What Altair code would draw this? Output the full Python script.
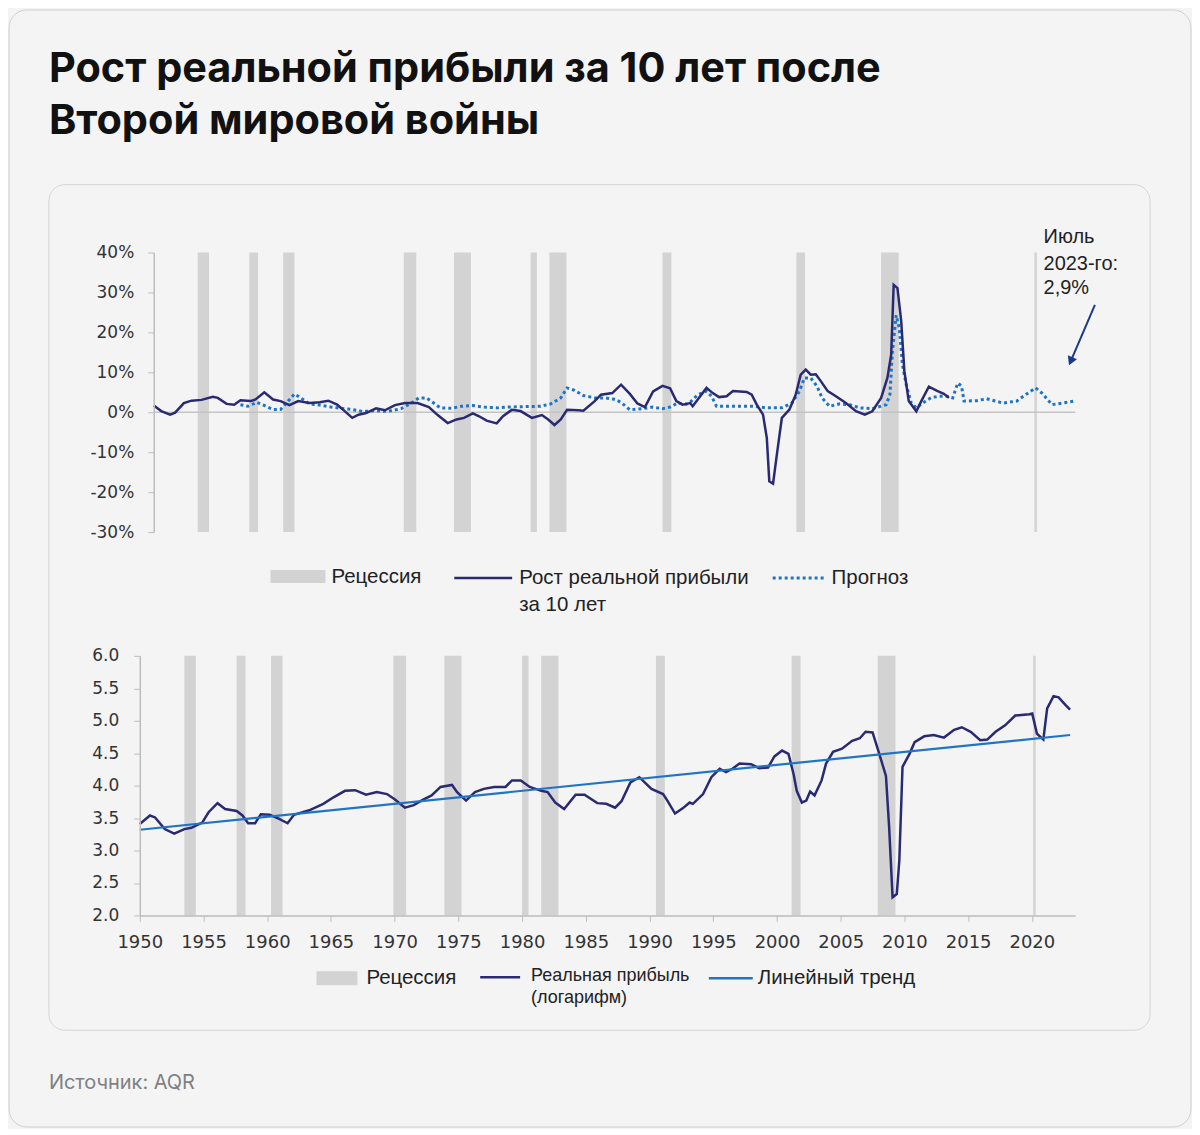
import altair as alt
import pandas as pd

# ---------------- data ----------------
rec_start = [1953.5, 1957.6, 1960.3, 1969.9, 1973.9, 1980.0, 1981.5, 1990.5, 2001.15, 2007.9, 2020.1]
rec_end = [1954.4, 1958.3, 1961.2, 1970.9, 1975.25, 1980.5, 1982.85, 1991.2, 2001.85, 2009.3, 2020.3]

growth_years = [1950.0, 1950.6, 1951.3, 1951.7, 1952.4, 1953.0, 1953.8, 1954.7, 1955.1, 1955.8,
                1956.4, 1956.9, 1957.7, 1958.1, 1958.8, 1959.5, 1960.1, 1960.8, 1961.5, 1962.4,
                1963.2, 1963.9, 1964.6, 1965.2, 1965.8, 1966.3, 1966.9, 1967.7, 1968.4, 1969.2,
                1970.0, 1971.0, 1971.9, 1972.6, 1973.4, 1974.1, 1974.7, 1975.4, 1975.9, 1976.5,
                1977.3, 1977.8, 1978.5, 1979.2, 1980.1, 1980.9, 1981.4, 1981.9, 1982.4, 1982.9,
                1983.8, 1984.2, 1985.1, 1985.6, 1986.5, 1987.2, 1987.9, 1988.5, 1989.1, 1989.75,
                1990.5, 1991.1, 1991.6, 1992.1, 1992.7, 1992.9, 1993.5, 1994.0, 1994.5, 1995.0,
                1995.6, 1996.1, 1997.2, 1997.6, 1998.0, 1998.5, 1998.8, 1999.0, 1999.3, 1999.6,
                2000.0, 2000.6, 2001.1, 2001.5, 2001.9, 2002.3, 2002.7, 2003.1, 2003.65, 2004.3,
                2005.1, 2005.9, 2006.6, 2007.2, 2007.9, 2008.4, 2008.7, 2008.9, 2009.2, 2009.5,
                2009.75, 2010.1, 2010.7, 2011.1, 2011.7, 2012.4, 2012.9, 2013.3]
growth_vals = [1.7, 0.3, -0.6, -0.1, 2.3, 2.9, 3.1, 3.9, 3.6, 2.1,
               1.9, 3.0, 2.8, 3.2, 5.0, 3.2, 2.8, 1.8, 2.8, 2.3,
               2.5, 2.9, 1.9, 0.3, -1.4, -0.6, -0.2, 1.0, 0.5, 1.8,
               2.3, 2.3, 1.3, -0.7, -2.7, -1.8, -1.4, -0.3, -1.0, -2.1,
               -2.8, -1.0, 0.6, 0.3, -1.4, -0.7, -1.8, -3.2, -1.8, 0.6,
               0.5, 0.4, 2.8, 4.4, 4.8, 6.9, 4.6, 2.2, 1.3, 5.2,
               6.6, 6.0, 2.8, 1.9, 2.3, 1.5, 4.0, 6.1, 4.8, 3.8,
               4.0, 5.3, 5.1, 4.4, 1.9, -0.6, -6.4, -17.3, -17.9, -10.6,
               -1.4, 0.7, 4.4, 9.4, 10.7, 9.4, 9.5, 7.8, 5.3, 4.0,
               2.3, 0.25, -0.6, 0.25, 3.6, 8.6, 14.4, 31.9, 31.1, 22.8,
               10.3, 2.8, 0.25, 2.8, 6.4, 5.3, 4.6, 3.6]

fcst_years = [1956.9, 1957.5, 1958.2, 1958.8, 1959.5, 1960.1, 1960.7, 1961.2, 1961.7, 1962.4,
              1963.2, 1964.1, 1964.9, 1965.8, 1966.6, 1967.7, 1968.6, 1969.7, 1970.5, 1971.1,
              1971.7, 1972.2, 1972.8, 1973.7, 1974.5, 1975.4, 1976.2, 1977.4, 1978.2, 1979.4,
              1980.8, 1981.6, 1982.4, 1982.9, 1983.5, 1984.2, 1985.1, 1985.9, 1986.8, 1987.3,
              1987.9, 1988.9, 1989.7, 1990.5, 1991.1, 1991.7, 1992.4, 1992.8, 1993.3, 1994.0,
              1994.4, 1994.8, 1996.1, 1997.7, 1998.8, 2000.0, 2000.8, 2001.4, 2001.8, 2002.3,
              2002.8, 2003.2, 2003.8, 2004.6, 2005.4, 2006.2, 2007.2, 2008.3, 2008.6, 2008.8,
              2009.1, 2009.35, 2009.6, 2009.9, 2010.3, 2010.7, 2011.2, 2011.9, 2012.5, 2013.2,
              2013.6, 2014.0, 2014.3, 2014.5, 2015.5, 2016.3, 2017.6, 2018.7, 2019.4, 2020.2,
              2020.7, 2021.5, 2022.3, 2023.25]
fcst_vals = [1.9, 1.5, 2.5, 1.7, 0.7, 0.7, 2.8, 4.6, 3.6, 2.1,
             1.8, 1.3, 1.0, 0.7, 0.2, 0.4, 0.2, 0.9, 2.3, 3.6,
             3.6, 2.5, 1.1, 1.0, 1.5, 1.7, 1.3, 1.1, 1.3, 1.4,
             1.5, 2.1, 3.6, 6.1, 5.5, 4.2, 3.6, 3.6, 3.2, 2.2,
             0.6, 0.9, 1.3, 0.9, 1.3, 2.3, 2.0, 2.8, 4.4, 5.3,
             4.0, 1.5, 1.5, 1.5, 1.1, 1.1, 2.3, 5.3, 8.6, 8.6,
             6.5, 3.6, 1.5, 2.1, 1.9, 1.1, 0.9, 1.9, 4.4, 15.2,
             24.3, 21.0, 11.9, 6.9, 2.3, 1.1, 2.3, 3.7, 4.0, 4.0,
             3.6, 7.3, 6.6, 2.8, 2.9, 3.4, 2.3, 2.8, 4.4, 6.1,
             4.8, 1.9, 2.3, 2.8]

profit_years = [1950.0, 1950.8, 1951.2, 1951.96, 1952.7, 1953.5, 1954.05, 1954.9, 1955.4, 1956.1,
                1956.7, 1957.6, 1958.06, 1958.5, 1959.05, 1959.5, 1960.2, 1960.9, 1961.6, 1962.1,
                1963.3, 1964.4, 1965.2, 1966.1, 1966.9, 1967.75, 1968.6, 1969.4, 1970.0, 1970.8,
                1971.5, 1972.2, 1972.9, 1973.6, 1974.5, 1974.9, 1975.6, 1976.3, 1977.0, 1977.8,
                1978.7, 1979.2, 1979.9, 1980.6, 1981.5, 1982.0, 1982.6, 1983.3, 1984.2, 1984.9,
                1985.9, 1986.6, 1987.3, 1987.8, 1988.5, 1989.2, 1990.15, 1991.06, 1991.4, 1992.0,
                1992.6, 1993.15, 1993.4, 1994.2, 1994.85, 1995.5, 1996.0, 1996.5, 1997.06, 1997.97,
                1998.6, 1999.3, 1999.8, 2000.4, 2000.9, 2001.3, 2001.55, 2001.95, 2002.3, 2002.6,
                2002.95, 2003.5, 2003.85, 2004.4, 2005.1, 2005.9, 2006.5, 2006.95, 2007.5, 2007.9,
                2008.55, 2008.8, 2009.07, 2009.4, 2009.6, 2009.85, 2010.4, 2010.8, 2011.55, 2012.3,
                2013.1, 2013.9, 2014.5, 2015.2, 2015.95, 2016.5, 2017.15, 2017.9, 2018.7, 2019.8,
                2020.03, 2020.4, 2020.9, 2021.2, 2021.7, 2022.1, 2022.65, 2023.0]
profit_vals = [3.41, 3.54, 3.51, 3.33, 3.26, 3.33, 3.35, 3.43, 3.59, 3.73,
               3.64, 3.61, 3.54, 3.42, 3.42, 3.56, 3.55, 3.49, 3.42, 3.55,
               3.62, 3.72, 3.82, 3.92, 3.93, 3.86, 3.90, 3.87, 3.79, 3.66,
               3.70, 3.78, 3.85, 3.98, 4.01, 3.90, 3.77, 3.90, 3.95, 3.98,
               3.98, 4.08, 4.08, 3.98, 3.92, 3.90, 3.74, 3.64, 3.86, 3.86,
               3.73, 3.72, 3.66, 3.76, 4.05, 4.13, 3.95, 3.87, 3.77, 3.57,
               3.65, 3.74, 3.72, 3.87, 4.13, 4.26, 4.21, 4.26, 4.34, 4.33,
               4.27, 4.28, 4.45, 4.54, 4.49, 4.18, 3.92, 3.74, 3.77, 3.91,
               3.85, 4.08, 4.34, 4.52, 4.57, 4.69, 4.73, 4.83, 4.82, 4.57,
               4.15, 3.36, 2.28, 2.33, 2.85, 4.29, 4.49, 4.67, 4.76, 4.78,
               4.74, 4.86, 4.90, 4.83, 4.70, 4.71, 4.83, 4.93, 5.08, 5.10,
               5.11, 4.80, 4.71, 5.19, 5.38, 5.36, 5.24, 5.17]

trend_years = [1950.0, 2023.0]
trend_vals = [3.32, 4.78]

top_ticks = [-30, -20, -10, 0, 10, 20, 30, 40]
bottom_y_ticks = [2.0, 2.5, 3.0, 3.5, 4.0, 4.5, 5.0, 5.5, 6.0]
bottom_x_ticks = [1950, 1955, 1960, 1965, 1970, 1975, 1980, 1985, 1990, 1995, 2000, 2005, 2010, 2015, 2020]

title_lines = ["Рост реальной прибыли за 10 лет после", "Второй мировой войны"]
source_text = "Источник: AQR"
note_lines = ["Июль", "2023-го:", "2,9%"]
note_years = [2020.83, 2020.83, 2020.83]
note_vals = [44.0, 37.1, 31.1]
arrow_from = (2024.92, 26.9)
arrow_head = (2023.04, 13.1)

# ---------------- frames ----------------
rec_df = pd.DataFrame({"start": rec_start, "end": rec_end})
growth_df = pd.DataFrame({"year": growth_years, "value": growth_vals})
fcst_df = pd.DataFrame({"year": fcst_years, "value": fcst_vals})
profit_df = pd.DataFrame({"year": profit_years, "value": profit_vals})
trend_df = pd.DataFrame({"year": trend_years, "value": trend_vals})
note_df = pd.DataFrame({"year": note_years, "value": note_vals, "txt": note_lines})
arrow_df = pd.DataFrame({"year": [arrow_from[0]], "value": [arrow_from[1]],
                         "year2": [arrow_head[0]], "value2": [arrow_head[1]]})
head_df = pd.DataFrame({"year": [arrow_head[0]], "value": [arrow_head[1]]})
one = pd.DataFrame({"d": [0]})

NAVY = "#2a2a72"
BLUE = "#1f74c6"
GRAY_BAR = "#d3d3d3"
AXIS_GRAY = "#bdbdbd"
TXT = "#222222"
BG = "#f4f4f4"

W = 937
H1 = 280
H2 = 260
TOP_DOM = [1950, 2023.35]
BOT_DOM = [1950, 2023.4]

xs_top = alt.Scale(domain=TOP_DOM, range=[14, W], nice=False, zero=False)
ys_top = alt.Scale(domain=[-30, 40], nice=False, zero=False)
xs_bot = alt.Scale(domain=BOT_DOM, nice=False, zero=False)
ys_bot = alt.Scale(domain=[2, 6], nice=False, zero=False)

top_axis = alt.Axis(values=top_ticks, labelExpr="datum.value + '%'", title=None, grid=False,
                    offset=-14, domainColor=AXIS_GRAY, tickColor=AXIS_GRAY, tickSize=6,
                    labelPadding=14, labelFont="DejaVu Sans", labelFontSize=17,
                    labelColor="#333333", zindex=1, domainWidth=1.5, labelOverlap=False,
                    labelBound=False, labelFlush=False)


def YT(field):
    return alt.Y(field, scale=ys_top, axis=top_axis)


def XT(field):
    return alt.X(field, scale=xs_top, axis=None)


def dtext(txt, x, y, size, font="Liberation Sans", color=TXT, weight="normal", baseline="middle"):
    return alt.Chart(one).mark_text(text=txt, fontSize=size, font=font, color=color,
                                    fontWeight=weight, align="left", baseline=baseline).encode(
        x=alt.value(x), y=alt.value(y))


def drect(x, x2, y, y2, **kw):
    return alt.Chart(one).mark_rect(**kw).encode(
        x=alt.value(x), x2=alt.value(x2), y=alt.value(y), y2=alt.value(y2))


def drule(x, x2, y, **kw):
    return alt.Chart(one).mark_rule(**kw).encode(
        x=alt.value(x), x2=alt.value(x2), y=alt.value(y))


# ---------------- top panel ----------------
page_bg = drect(-131, 1053, -243, 876, fill=BG, stroke="#cfcfcf", strokeWidth=1, cornerRadius=18)
card = drect(-91, 1012, -68, 779, fill=BG, stroke="#d4d4d4", strokeWidth=1, cornerRadius=16)
title1 = dtext(title_lines[0], -91, -171, 41.5, font="Inter", color="#111111", weight="bold", baseline="alphabetic")
title2 = dtext(title_lines[1], -91, -119, 41.5, font="Inter", color="#111111", weight="bold", baseline="alphabetic")
source = dtext(source_text, -91, 832, 20, font="Inter", color="#808080")

rec_top = alt.Chart(rec_df).mark_rect(color=GRAY_BAR).encode(
    x=XT("start:Q"), x2="end:Q",
    y=alt.value(0), y2=alt.value(H1))

zero_line = alt.Chart(one).mark_rule(color="#c4c4c4", strokeWidth=1.5).encode(
    x=alt.datum(TOP_DOM[0], scale=xs_top, axis=None),
    x2=alt.datum(TOP_DOM[1]),
    y=alt.datum(0, scale=ys_top, axis=top_axis))

fcst_line = alt.Chart(fcst_df).mark_line(color=BLUE, strokeWidth=3, strokeDash=[3, 3]).encode(
    x=XT("year:Q"), y=YT("value:Q"))

growth_line = alt.Chart(growth_df).mark_line(color=NAVY, strokeWidth=2.5).encode(
    x=XT("year:Q"), y=YT("value:Q"))

note = alt.Chart(note_df).mark_text(font="Liberation Sans", fontSize=20, color=TXT,
                                    align="left", baseline="middle").encode(
    x=XT("year:Q"), y=YT("value:Q"), text="txt:N")

arrow = alt.Chart(arrow_df).mark_rule(color="#1d3a8a", strokeWidth=2).encode(
    x=XT("year:Q"), y=YT("value:Q"), x2="year2:Q", y2="value2:Q")

head = alt.Chart(head_df).mark_point(shape="triangle", filled=True, size=100, angle=203,
                                     color="#1d3a8a", opacity=1).encode(
    x=XT("year:Q"), y=YT("value:Q"))

leg_top = [
    drect(131, 186, 318, 331, fill=GRAY_BAR),
    dtext("Рецессия", 192, 325, 20.5),
    drule(315, 373, 326, color=NAVY, strokeWidth=2.5),
    dtext("Рост реальной прибыли", 380, 326, 20.5),
    dtext("за 10 лет", 380, 353, 20.5),
    drule(634, 687, 326, color=BLUE, strokeWidth=3, strokeDash=[3, 3]),
    dtext("Прогноз", 693, 326, 20.5),
]

top = alt.layer(page_bg, card, title1, title2, source, rec_top, zero_line,
                fcst_line, growth_line, note, arrow, head, *leg_top).properties(width=W, height=H1)

# ---------------- bottom panel ----------------
bx_axis = alt.Axis(values=bottom_x_ticks, format="d", title=None, grid=False,
                   domainColor=AXIS_GRAY, tickColor=AXIS_GRAY, tickSize=6, labelPadding=12,
                   labelFont="DejaVu Sans", labelFontSize=18, labelColor="#333333", zindex=1,
                   domainWidth=1.5, labelFlush=False, labelOverlap=False, labelBound=False)
by_axis = alt.Axis(values=bottom_y_ticks, format=".1f", title=None, grid=False,
                   domainColor=AXIS_GRAY, tickColor=AXIS_GRAY, tickSize=6, labelPadding=15,
                   labelFont="DejaVu Sans", labelFontSize=17, labelColor="#333333", zindex=1,
                   domainWidth=1.5, labelOverlap=False, labelFlush=False, labelBound=False)

rec_bot = alt.Chart(rec_df).mark_rect(color=GRAY_BAR).encode(
    x=alt.X("start:Q", scale=xs_bot, axis=bx_axis),
    x2="end:Q",
    y=alt.value(0), y2=alt.value(H2))

profit_line = alt.Chart(profit_df).mark_line(color=NAVY, strokeWidth=2.5).encode(
    x=alt.X("year:Q", scale=xs_bot, axis=bx_axis),
    y=alt.Y("value:Q", scale=ys_bot, axis=by_axis))

trend_line = alt.Chart(trend_df).mark_line(color=BLUE, strokeWidth=2.2).encode(
    x=alt.X("year:Q", scale=xs_bot, axis=bx_axis),
    y=alt.Y("value:Q", scale=ys_bot, axis=by_axis))

leg_bot = [
    drect(177, 218, 316, 330, fill=GRAY_BAR),
    dtext("Рецессия", 227, 323, 20.5),
    drule(341, 381, 322, color=NAVY, strokeWidth=2.5),
    dtext("Реальная прибыль", 392, 321, 18),
    dtext("(логарифм)", 392, 343, 18),
    drule(570, 614, 323, color=BLUE, strokeWidth=2.5),
    dtext("Линейный тренд", 619, 323, 20.5),
]

bottom = alt.layer(rec_bot, profit_line, trend_line, *leg_bot).properties(width=W, height=H2)

chart = alt.vconcat(top, bottom, spacing=124, bounds="flush").properties(
    padding=0
).configure(background=BG).configure_view(stroke=None)

chart.save("out.html", embed_options={"renderer": "svg", "actions": False})
